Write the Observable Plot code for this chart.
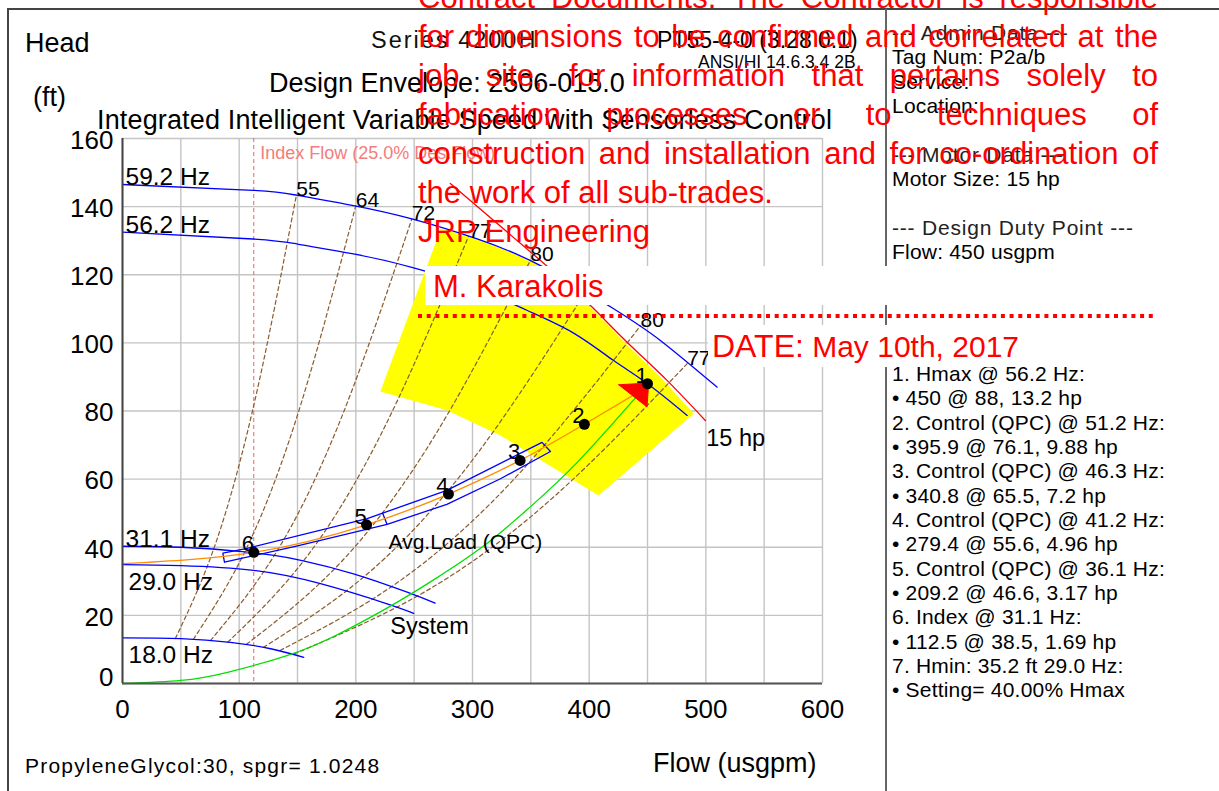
<!DOCTYPE html>
<html><head><meta charset="utf-8">
<script src="https://cdn.jsdelivr.net/npm/d3@7"></script>
<script src="https://cdn.jsdelivr.net/npm/@observablehq/plot@0.6"></script>
<style>
html,body{margin:0;padding:0;background:#fff;}
#wrap{position:relative;width:1219px;height:791px;overflow:hidden;font-family:"Liberation Sans",Arial,sans-serif;}
.st{position:absolute;color:#ff0000;font-size:31px;line-height:1;white-space:nowrap;font-family:"Liberation Sans",Arial,sans-serif;}
.wb{position:absolute;background:#fff;}
</style></head><body><div id="wrap"></div>
<script>
// ---------------- data ----------------
const flowTicks = [0,100,200,300,400,500,600];
const headTicks = [0,20,40,60,80,100,120,140,160];
const flowGrid = [0,50,100,150,200,250,300,350,400,450,500,550,600];
const headGrid = [0,20,40,60,80,100,120,140,160];

// pump curves at speed [flow usgpm, head ft]
const speedNames = ["59.2 Hz","56.2 Hz","31.1 Hz","29.0 Hz","18.0 Hz"];
const curve592 = [[0,146.5],[112,144.8],[150,143.3],[198,140.3],[248,136.4],[304,130.5],[360,122.4],[421,110],[461,100.7],[509.6,87]];
const curve562 = [[0,132.5],[112,130.5],[150,129],[198,126.1],[248,122.2],[300,116.5],[347,109.5],[387,102.8],[421,94.8],[450,88],[484,78.7]];
const curve311 = [[0,40.3],[50,40.0],[100,38.8],[130,37.6],[154,36.1],[198,32.2],[244,26.8],[268,23.6]];
const curve290 = [[0,34.9],[50,34.6],[112.5,33.2],[169.7,29.3],[226.8,23.4],[249.6,20.6]];
const curve180 = [[0,13.4],[50,13.2],[92.5,12.1],[127,10.2],[155.4,7.7]];

// iso-efficiency lines
const effLabels = ["55","64","72","77","80","","80","77"];
const eff55  = [[45.3,13.2],[80,41.3],[115,85.4],[149,143.3]];
const eff64  = [[60.8,13.0],[107,40.2],[153,82.1],[200,140.3]];
const eff72  = [[75.4,12.6],[133,39.2],[190,80.1],[248,136.4]];
const eff77  = [[90.2,12.1],[159,37.7],[228,77.6],[296.5,131.2]];
const eff80  = [[106.3,11.5],[188,35.9],[269,73.5],[349.6,124.2]];
const eff81  = [[120.7,10.6],[213,33.1],[305,67.9],[397,115]];
const eff80b = [[135,9.7],[238,30.2],[341,62],[444,105]];
const eff77b = [[147.2,8.7],[260,27.1],[372,55.5],[484,93.9]];

// control curve (QPC) and operating points
const controlCurve = [[0,35.2],[112.5,38.5],[209.2,46.6],[279.4,55.6],[340.8,65.5],[395.9,76.1],[447,86.5]];
const pointLabels = ["1","2","3","4","5","6"];
const pointFlow = [450,395.9,340.8,279.4,209.2,112.5];
const pointHead = [88,76.1,65.5,55.6,46.6,38.5];

// system curve
const systemCurve = [[0,0],[50,0.9],[90,3.3],[141,8.2],[181,13.8],[227,22.2],[267,30.5],[310,40.5],[350,52],[390,65],[440,84]];
// 15 hp motor limit
const motorLimit = [[281,146.8],[365,122.2],[404,110],[432.5,100.2],[466.7,89],[499.6,77.2]];
// design envelope (yellow)
const envelope = [[273,133.6],[304,130.5],[330,127],[360,122.4],[404,109.5],[432,99.5],[461,90],[489.6,79.2],[408,55.2],[324,72.8],[278,80.2],[221,85.7]];
// tolerance band around control curve
const bandUpper = [[86,38.3],[107,39.7],[209.7,48.4],[278,56.7],[359.6,70.8]];
const bandLower = [[366.8,68.1],[324,60.1],[278,52.6],[226.8,46.7],[150,40.4],[87.4,35.6]];
const bandTick = [[223,50],[226.8,46.7]];
// design point marker
const designMarker = [[425.3,87.7],[451,88.2],[449.6,81.2]];
const indexFlow = [112.5];

const annotations = [
  {text:"Avg.Load (QPC)", flow:228, head:39.6, size:21},
  {text:"System", flow:229.6, head:14.4, size:23.5},
  {text:"15 hp", flow:500.4, head:69.6, size:23.5}
];

// ---------------- helpers ----------------
const P = a => a.map(([flow, head]) => ({flow, head}));
const closed = a => P([...a, a[0]]);
const FONT = '"Liberation Sans", Arial, sans-serif';
const speedCurves = [curve592, curve562, curve311, curve290, curve180];
const effLines = [eff55, eff64, eff72, eff77, eff80, eff81, eff80b, eff77b];
const effTops = effLines.map((l, i) => ({flow: l[l.length-1][0], head: l[l.length-1][1], label: effLabels[i]})).filter(d => d.label);
const speedLabelData = speedCurves.map((c, i) => ({flow: c[0][0], head: c[0][1], name: speedNames[i]}));
const below = new Set(["29.0 Hz","18.0 Hz"]);
const points = pointFlow.map((f, i) => ({flow: f, head: pointHead[i], label: pointLabels[i]}));
const xy = {x:"flow", y:"head"};

const plot = Plot.plot({
  width:1219, height:791,
  marginLeft:122, marginRight:397, marginTop:138, marginBottom:108,
  x:{domain:[0,600], axis:null},
  y:{domain:[0,160], axis:null},
  style:{fontFamily:FONT, background:"transparent", overflow:"visible"},
  marks:[
    Plot.ruleX(flowGrid, {stroke:"#c4c4c4", strokeWidth:1.4}),
    Plot.ruleY(headGrid, {stroke:"#c4c4c4", strokeWidth:1.4}),
    Plot.line(P(envelope), {...xy, fill:"#ffff00", stroke:"none"}),
    Plot.ruleX(indexFlow, {stroke:"#f06060", strokeWidth:1, strokeDasharray:"4,3"}),
    ...effLines.map(l => Plot.line(P(l), {...xy, curve:"natural", stroke:"#8b5a2b", strokeWidth:1.2, strokeDasharray:"4,3"})),
    ...speedCurves.map(c => Plot.line(P(c), {...xy, curve:"natural", stroke:"#0000ff", strokeWidth:1.3})),
    Plot.line(P(motorLimit), {...xy, curve:"natural", stroke:"#ff0000", strokeWidth:1.3}),
    Plot.line(P(systemCurve), {...xy, curve:"natural", stroke:"#00e000", strokeWidth:1.3}),
    Plot.line(closed([...bandUpper, ...bandLower]), {...xy, stroke:"#0000ff", strokeWidth:1.3}),
    Plot.line(P(bandTick), {...xy, stroke:"#0000ff", strokeWidth:1.3}),
    Plot.line(P(controlCurve), {...xy, curve:"natural", stroke:"#ff8c00", strokeWidth:1.3}),
    Plot.line(closed(designMarker), {...xy, fill:"#ff0000", stroke:"#ff0000", strokeWidth:1}),
    Plot.dot(points, {...xy, r:5.5, fill:"#000", stroke:"none"}),
    Plot.text(points, {...xy, text:"label", dx:-6, dy:-1, lineAnchor:"bottom", textAnchor:"middle", fontSize:22, fill:"#000"}),
    Plot.text(effTops, {...xy, text:"label", textAnchor:"start", lineAnchor:"bottom", dy:1, fontSize:21, fill:"#000"}),
    Plot.text(speedLabelData.filter(d => !below.has(d.name)), {...xy, text:"name", textAnchor:"start", lineAnchor:"bottom", dx:3, dy:1, fontSize:24.5, fill:"#000"}),
    Plot.text(speedLabelData.filter(d => below.has(d.name)), {...xy, text:"name", textAnchor:"start", lineAnchor:"bottom", dx:6, dy:25, fontSize:24.5, fill:"#000"}),
    ...annotations.map(a => Plot.text([a], {...xy, text:"text", textAnchor:"start", lineAnchor:"bottom", fontSize:a.size, fill:"#000"})),
    Plot.text(["Index Flow (25.0% Des.Flow)"], {x:118, y:154, text:d=>d, textAnchor:"start", lineAnchor:"bottom", fontSize:18, fill:"#f47c7c"}),
    Plot.ruleX([0], {stroke:"#444", strokeWidth:2}),
    Plot.ruleY([0], {stroke:"#555", strokeWidth:2}),
    Plot.text(flowTicks, {x:d=>d, frameAnchor:"bottom", lineAnchor:"middle", dy:26, fontSize:26, fill:"#000"}),
    Plot.text(headTicks.filter(d => d > 0), {y:d=>d, frameAnchor:"left", textAnchor:"end", lineAnchor:"middle", dx:-9, dy:2, fontSize:26, fill:"#000"}),
    Plot.text(headTicks.filter(d => d === 0), {y:d=>d, frameAnchor:"left", textAnchor:"end", lineAnchor:"middle", dx:-9, dy:-6, fontSize:26, fill:"#000"})
  ]
});
const wrap = document.getElementById("wrap");
plot.style.position = "absolute"; plot.style.left = "0px"; plot.style.top = "0px";
wrap.appendChild(plot);

// ---------------- overlay: frame, titles, side panel ----------------
const ov = d3.select(wrap).append("svg").attr("width",1219).attr("height",791)
  .style("position","absolute").style("left","0px").style("top","0px");
ov.append("path").attr("d","M8,791 V9 H1219").attr("fill","none").attr("stroke","#444").attr("stroke-width",2);
ov.append("line").attr("x1",886).attr("x2",886).attr("y1",9).attr("y2",791).attr("stroke","#666").attr("stroke-width",2);
function txt(x, y, size, s, o = {}) {
  ov.append("text").attr("x",x).attr("y",y).attr("font-size",size).attr("font-family",FONT)
    .attr("fill",o.fill || "#000").attr("letter-spacing",o.ls || 0).attr("text-anchor",o.anchor || "start").text(s);
}
txt(25, 52, 27, "Head");
txt(33, 106, 27, "(ft)");
txt(371, 48, 23.5, "Series 4200H", {ls:2, fill:"#111"});
txt(657, 48, 23, "PT55-4-0 (3.28 0.1)");
txt(698, 68, 17.5, "ANSI/HI 14.6.3.4 2B");
txt(269, 92, 27, "Design Envelope: 2506-015.0");
txt(97, 129, 27, "Integrated Intelligent Variable Speed with Sensorless Control", {ls:0.15});
txt(25, 773, 21, "PropyleneGlycol:30, spgr= 1.0248", {ls:1.2});
txt(653, 772, 27, "Flow (usgpm)");

const panelLines = [
  [0,"--- Admin Data ---",1],[1,"Tag Num: P2a/b"],[2,"Service:"],[3,"Location:"],
  [5,"--- Motor Data ---",1],[6,"Motor Size: 15 hp"],
  [8,"--- Design Duty Point ---",1],[9,"Flow: 450 usgpm"],
  [14,"1. Hmax @ 56.2 Hz:"],[15,"\u2022 450 @ 88, 13.2 hp"],
  [16,"2. Control (QPC) @ 51.2 Hz:"],[17,"\u2022 395.9 @ 76.1, 9.88 hp"],
  [18,"3. Control (QPC) @ 46.3 Hz:"],[19,"\u2022 340.8 @ 65.5, 7.2 hp"],
  [20,"4. Control (QPC) @ 41.2 Hz:"],[21,"\u2022 279.4 @ 55.6, 4.96 hp"],
  [22,"5. Control (QPC) @ 36.1 Hz:"],[23,"\u2022 209.2 @ 46.6, 3.17 hp"],
  [24,"6. Index @ 31.1 Hz:"],[25,"\u2022 112.5 @ 38.5, 1.69 hp"],
  [26,"7. Hmin: 35.2 ft 29.0 Hz:"],[27,"\u2022 Setting= 40.00% Hmax"]
];
panelLines.forEach(([k, s, h]) => txt(892, 40 + 24.35 * k, 21, s, {ls: h ? 0.8 : 0.2, fill: h ? "#222" : "#000"}));

// ---------------- stamp overlay ----------------
const stampLines = [
  "Contract Documents. The Contractor is responsible",
  "for dimensions to be confirmed and correlated at the",
  "job site, for information that pertains solely to",
  "fabrication processes or to techniques of",
  "construction and installation and for co-ordination of",
  "the work of all sub-trades.",
  "JRP Engineering"
];
function stamp(x, baseline, size, html, width, justify) {
  const d = document.createElement("div");
  d.className = "st";
  d.style.left = x + "px";
  d.style.top = (baseline - 0.8305 * size) + "px";
  d.style.fontSize = size + "px";
  if (width) d.style.width = width + "px";
  if (justify) { d.style.textAlign = "justify"; d.style.textAlignLast = "justify"; }
  d.innerHTML = html;
  wrap.appendChild(d);
}
stampLines.forEach((s, k) => stamp(418, 8 + 38.9 * k, 31, s, 740, k < 5));
function wbox(x, y, w, h) {
  const d = document.createElement("div");
  d.className = "wb";
  Object.assign(d.style, {left:x+"px", top:y+"px", width:w+"px", height:h+"px"});
  wrap.appendChild(d);
}
wbox(425, 266, 735, 39);
stamp(433, 297, 31, "M. Karakolis");
const dl = d3.select(wrap).append("svg").attr("width",1219).attr("height",791)
  .style("position","absolute").style("left","0px").style("top","0px");
dl.append("line").attr("x1",418).attr("x2",1156).attr("y1",316).attr("y2",316)
  .attr("stroke","#ff0000").attr("stroke-width",4).attr("stroke-dasharray","4,4.7");
wbox(708, 325, 314, 42);
stamp(712, 355, 30, '<span style="font-size:32px">DATE:</span> May 10th, 2017');
</script></body></html>
